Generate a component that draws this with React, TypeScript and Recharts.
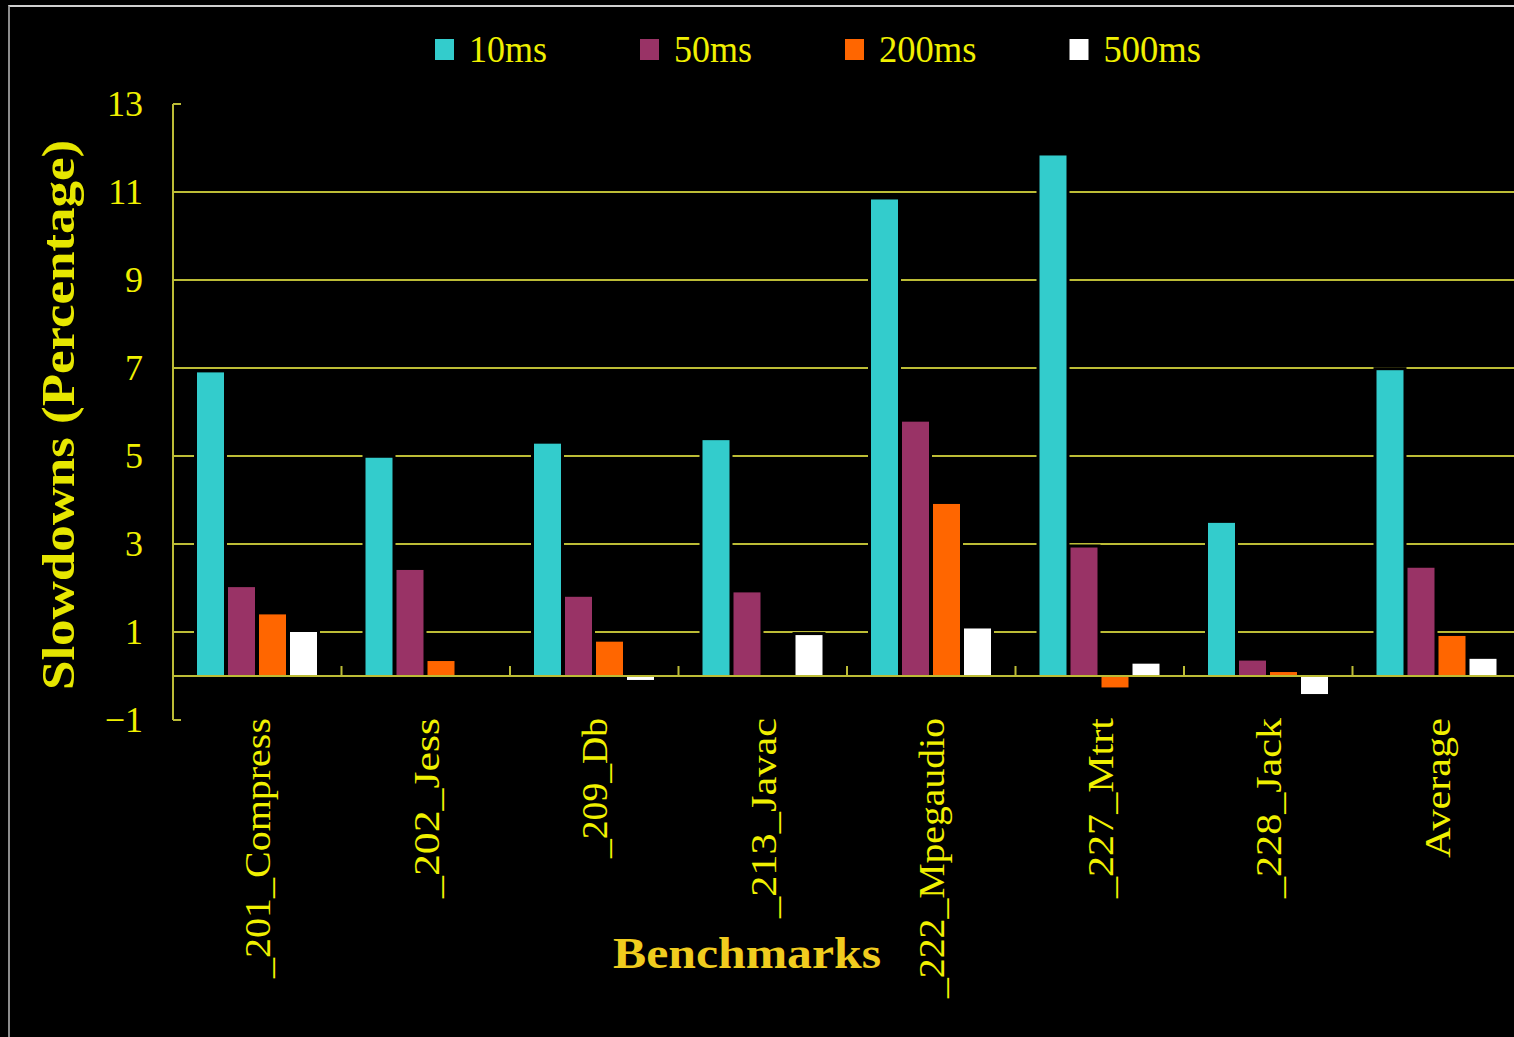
import { Bar, BarChart, CartesianGrid, Legend, ReferenceLine, XAxis, YAxis } from 'recharts'

const categories = ['_201_Compress', '_202_Jess', '_209_Db', '_213_Javac', '_222_Mpegaudio', '_227_Mtrt', '_228_Jack', 'Average']
const slow10ms = [6.9, 4.96, 5.28, 5.36, 10.83, 11.83, 3.48, 6.95]
const slow50ms = [2.02, 2.41, 1.8, 1.9, 5.78, 2.92, 0.35, 2.46]
const slow200ms = [1.4, 0.34, 0.78, 0, 3.91, -0.26, 0.09, 0.91]
const slow500ms = [1.0, 0, -0.09, 0.93, 1.08, 0.28, -0.41, 0.39]
const seriesNames = ['10ms', '50ms', '200ms', '500ms']
const seriesColors = ['#33CCCC', '#993366', '#FF6600', '#FFFFFF']
const yTicks = [-1, 1, 3, 5, 7, 9, 11, 13]
const gridValues = [1, 3, 5, 7, 9, 11]

const data = categories.map((name, i) => ({
  name,
  ms10: slow10ms[i],
  ms50: slow50ms[i],
  ms200: slow200ms[i],
  ms500: slow500ms[i],
}))

const FONT = '"Liberation Serif", "DejaVu Serif", serif'
const LINE = '#bcbc36'
const TEXT = '#f0f000'

const W = 1530
const H = 1037
const PLOT_LEFT = 173
const PLOT_RIGHT = 1521
const PLOT_TOP = 104
const PLOT_BOTTOM = 720
const Y_MIN = -1
const Y_MAX = 13
const zeroY = PLOT_TOP + ((Y_MAX - 0) / (Y_MAX - Y_MIN)) * (PLOT_BOTTOM - PLOT_TOP)

function OutlinedBar(props: any) {
  const { x, y, width, height, fill } = props
  if (!height || Math.abs(height) < 0.5) return null
  const top = Math.min(y, y + height)
  const h = Math.abs(height)
  const negative = top >= zeroY - 0.5
  return (
    <g>
      <rect x={x - 3} y={negative ? top : top - 3} width={width + 6} height={h + 3} fill="#000" />
      <rect x={x} y={top} width={width} height={h} fill={fill} />
    </g>
  )
}

function XTick(props: any) {
  const { x, y, payload, index } = props
  const band = (PLOT_RIGHT - PLOT_LEFT) / categories.length
  const label = String(payload.value)
  return (
    <g>
      {index > 0 && (
        <line x1={x - band / 2} x2={x - band / 2} y1={zeroY} y2={zeroY - 10} stroke={LINE} strokeWidth={2} />
      )}
      <text
        x={x}
        y={y - 2}
        dy="0.36em"
        transform={`rotate(-90 ${x} ${y - 2})`}
        textAnchor="end"
        fill={TEXT}
        fontFamily={FONT}
        fontSize={36}
        textLength={label.length * 20}
        lengthAdjust="spacingAndGlyphs"
      >
        {label}
      </text>
    </g>
  )
}

function YTick(props: any) {
  const { x, y, payload } = props
  const v = payload.value as number
  const edge = v === Y_MIN || v === Y_MAX
  return (
    <g>
      {edge && <line x1={x} x2={x + 8} y1={y} y2={y} stroke={LINE} strokeWidth={2} />}
      <text x={x - 30} y={y} dy="0.34em" textAnchor="end" fill={TEXT} fontFamily={FONT} fontSize={36}>
        {v < 0 ? `\u2212${Math.abs(v)}` : v}
      </text>
    </g>
  )
}

function LegendBox() {
  let cx = 435
  const items = seriesNames.map((label, i) => {
    const tw = label.length * 19.5
    const item = (
      <g key={label}>
        <rect x={cx} y={14} width={19} height={21} fill={seriesColors[i]} />
        <text
          x={cx + 34}
          y={37}
          fill={TEXT}
          fontFamily={FONT}
          fontSize={38}
          textLength={tw}
          lengthAdjust="spacingAndGlyphs"
        >
          {label}
        </text>
      </g>
    )
    cx += 34 + tw + 93
    return item
  })
  return (
    <svg width={1514} height={60} style={{ display: 'block', overflow: 'visible' }}>
      {items}
    </svg>
  )
}

function YTitle() {
  return (
    <text
      x={58}
      y={415}
      dy="0.35em"
      transform="rotate(-90 58 415)"
      textAnchor="middle"
      fill="#e6e600"
      fontFamily={FONT}
      fontWeight="bold"
      fontSize={46}
      textLength={550}
      lengthAdjust="spacingAndGlyphs"
    >
      Slowdowns (Percentage)
    </text>
  )
}

function XTitle() {
  return (
    <text
      x={747}
      y={968}
      textAnchor="middle"
      fill="#f0cc1e"
      fontFamily={FONT}
      fontWeight="bold"
      fontSize={45}
      textLength={268}
      lengthAdjust="spacingAndGlyphs"
    >
      Benchmarks
    </text>
  )
}

export default function App() {
  return (
    <div style={{ position: 'absolute', left: 0, top: 0, width: 1514, height: H, overflow: 'hidden', background: '#000' }}>
      <BarChart
        width={W}
        height={H}
        data={data}
        margin={{ top: PLOT_TOP, right: W - PLOT_RIGHT, bottom: 17, left: 0 }}
        barSize={27}
        barGap={4}
        style={{ background: '#000' }}
      >
        <CartesianGrid vertical={false} horizontalValues={gridValues} stroke={LINE} strokeWidth={2} />
        <Bar dataKey="ms10" name={seriesNames[0]} fill={seriesColors[0]} shape={OutlinedBar} isAnimationActive={false} />
        <Bar dataKey="ms50" name={seriesNames[1]} fill={seriesColors[1]} shape={OutlinedBar} isAnimationActive={false} />
        <Bar dataKey="ms200" name={seriesNames[2]} fill={seriesColors[2]} shape={OutlinedBar} isAnimationActive={false} />
        <Bar dataKey="ms500" name={seriesNames[3]} fill={seriesColors[3]} shape={OutlinedBar} isAnimationActive={false} />
        <ReferenceLine y={0} stroke={LINE} strokeWidth={2} />
        <YAxis
          width={PLOT_LEFT}
          domain={[Y_MIN, Y_MAX]}
          ticks={yTicks}
          interval={0}
          allowDataOverflow
          axisLine={{ stroke: LINE, strokeWidth: 2 }}
          tickLine={false}
          tickSize={0}
          tickMargin={0}
          tick={YTick}
          label={<YTitle />}
        />
        <XAxis
          dataKey="name"
          height={H - PLOT_BOTTOM - 17}
          axisLine={false}
          tickLine={false}
          tickSize={0}
          tickMargin={0}
          interval={0}
          tick={XTick}
          label={<XTitle />}
        />
        <Legend
          verticalAlign="middle"
          align="center"
          layout="horizontal"
          content={LegendBox}
          wrapperStyle={{ position: 'absolute', top: 25, left: 0, width: 1514, height: 60 }}
        />
      </BarChart>
      <div
        style={{
          position: 'absolute',
          left: 8,
          top: 5,
          right: -10,
          bottom: -10,
          borderTop: '2px solid #cfcfcf',
          borderLeft: '2px solid #8c8c8c',
          pointerEvents: 'none',
        }}
      />
    </div>
  )
}
